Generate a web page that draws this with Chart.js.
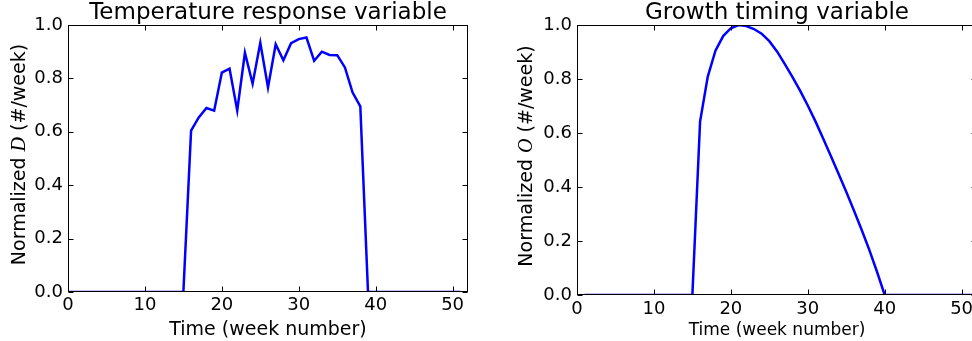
<!DOCTYPE html>
<html>
<head>
<meta charset="utf-8">
<script src="https://cdn.jsdelivr.net/npm/chart.js@4"></script>
<style>
  html, body { margin: 0; padding: 0; background: #fff; }
  body { width: 972px; height: 341px; overflow: hidden; position: relative; }
  canvas { position: absolute; top: 0; }
  #tempChart { left: 0; }
  #growthChart { left: 490px; }
</style>
</head>
<body>
<canvas id="tempChart" width="490" height="341"></canvas>
<canvas id="growthChart" width="490" height="341"></canvas>
<script>
// semanas do eixo x
const weeksTemp = [0, 1, 2, 3, 4, 5, 6, 7, 8, 9, 10, 11, 12, 13, 14, 15, 16, 17, 18, 19, 20, 21, 22, 23, 24, 25,
    26, 27, 28, 29, 30, 31, 32, 33, 34, 35, 36, 37, 38, 39, 40, 41, 42, 43, 44, 45, 46, 47, 48, 49, 50, 51];
const weeksGrowth = [1, 2, 3, 4, 5, 6, 7, 8, 9, 10, 11, 12, 13, 14, 15, 16, 17, 18, 19, 20, 21, 22, 23, 24, 25, 26,
    27, 28, 29, 30, 31, 32, 33, 34, 35, 36, 37, 38, 39, 40, 41, 42, 43, 44, 45, 46, 47, 48, 49, 50, 51, 52];

// valores
const temperatureResponse = [0, 0, 0, 0, 0, 0, 0, 0, 0, 0, 0, 0, 0, 0, 0, 0,
    0.604, 0.654, 0.689, 0.679, 0.822, 0.837, 0.680, 0.896, 0.780, 0.933, 0.766, 0.928, 0.868, 0.932,
    0.947, 0.953, 0.866, 0.900, 0.888, 0.887, 0.841, 0.747, 0.695,
    0, 0, 0, 0, 0, 0, 0, 0, 0, 0, 0, 0, 0];
const growthTiming = [0, 0, 0, 0, 0, 0, 0, 0, 0, 0, 0, 0, 0, 0, 0,
    0.642, 0.809, 0.905, 0.959, 0.988, 1.000, 0.996, 0.985, 0.968, 0.940, 0.902, 0.856, 0.808, 0.757,
    0.702, 0.643, 0.580, 0.515, 0.449, 0.382, 0.313, 0.242, 0.167, 0.086,
    0, 0, 0, 0, 0, 0, 0, 0, 0, 0, 0, 0, 0];

const xTicks = [0, 10, 20, 30, 40, 50];
const yTicks = [0, 0.2, 0.4, 0.6, 0.8, 1.0];

const FONT = '"DejaVu Sans", sans-serif';

// moldura com ticks para dentro (estilo matplotlib) + titulo do eixo y
const axesFrame = {
    id: 'axesFrame',
    afterDatasetsDraw(chart, args, opts) {
        const { ctx, chartArea: a, scales: { x, y } } = chart;
        ctx.save();
        ctx.strokeStyle = '#000';
        ctx.lineWidth = 1;
        const L = Math.round(a.left) + 0.5, R = Math.round(a.right) - 0.5;
        const T = Math.round(a.top) + 0.5, B = Math.round(a.bottom) - 0.5;
        ctx.strokeRect(L, T, R - L, B - T);
        ctx.beginPath();
        x.ticks.forEach(t => {
            const px = Math.round(x.getPixelForValue(t.value)) + 0.5;
            ctx.moveTo(px, B); ctx.lineTo(px, B - 5);
            ctx.moveTo(px, T); ctx.lineTo(px, T + 5);
        });
        y.ticks.forEach(t => {
            const py = Math.round(y.getPixelForValue(t.value)) + 0.5;
            ctx.moveTo(L, py); ctx.lineTo(L + 5, py);
            ctx.moveTo(R, py); ctx.lineTo(R - 5, py);
        });
        ctx.stroke();

        // titulo do eixo y com a letra em italico
        const parts = opts.label;
        let total = 0;
        parts.forEach(p => { ctx.font = p.font; p.w = ctx.measureText(p.text).width; total += p.w; });
        ctx.translate(opts.titleX, (a.top + a.bottom) / 2 + opts.titleShift);
        ctx.rotate(-Math.PI / 2);
        ctx.fillStyle = '#000';
        ctx.textBaseline = 'middle';
        ctx.textAlign = 'left';
        let cx = -total / 2;
        parts.forEach(p => { ctx.font = p.font; ctx.fillText(p.text, cx, 0); cx += p.w; });
        ctx.restore();
    }
};

function makeChart(id, cfg) {
    const ctx = document.getElementById(id).getContext('2d');
    return new Chart(ctx, {
        type: 'line',
        data: {
            datasets: [{
                data: cfg.xs.map((w, i) => ({ x: w, y: cfg.ys[i] })),
                borderColor: '#0000ff',
                borderWidth: 2.5,
                pointRadius: 0,
                tension: 0,
                fill: false
            }]
        },
        options: {
            responsive: false,
            animation: false,
            devicePixelRatio: 1,
            layout: { padding: { left: 0, right: cfg.padRight, top: 0, bottom: 0 } },
            scales: {
                x: {
                    type: 'linear',
                    min: 0,
                    max: 52,
                    grid: { display: false, drawTicks: false },
                    border: { display: false },
                    afterBuildTicks: s => { s.ticks = xTicks.map(v => ({ value: v })); },
                    afterFit: s => { s.height = cfg.xHeight; },
                    ticks: { padding: cfg.xPad, color: '#000', font: { family: FONT, size: 18 }, maxRotation: 0 },
                    title: {
                        display: true,
                        text: 'Time (week number)',
                        color: '#000',
                        font: { family: FONT, size: cfg.xTitleSize },
                        padding: { top: 0, bottom: 0 }
                    }
                },
                y: {
                    min: 0,
                    max: 1,
                    grid: { display: false, drawTicks: false },
                    border: { display: false },
                    afterBuildTicks: s => { s.ticks = yTicks.map(v => ({ value: v })); },
                    afterFit: s => { s.width = cfg.yWidth; },
                    ticks: {
                        padding: 5,
                        color: '#000',
                        font: { family: FONT, size: 18 },
                        callback: v => v.toFixed(1)
                    }
                }
            },
            plugins: {
                legend: { display: false },
                tooltip: { enabled: false },
                title: {
                    display: true,
                    fullSize: false,
                    text: cfg.title,
                    color: '#000',
                    font: { family: FONT, size: 23, weight: 'normal', lineHeight: 1 },
                    padding: { top: 2, bottom: 0 }
                },
                axesFrame: {
                    titleX: cfg.titleX,
                    titleShift: -4,
                    label: [
                        { text: 'Normalized ', font: '19px ' + FONT },
                        { text: cfg.letter, font: 'italic 20px "Liberation Serif", serif' },
                        { text: ' (#/week)', font: '19px ' + FONT }
                    ]
                }
            }
        },
        plugins: [axesFrame]
    });
}

makeChart('tempChart', {
    xs: weeksTemp, ys: temperatureResponse,
    title: 'Temperature response variable', letter: 'D',
    yWidth: 68, xHeight: 49, padRight: 22, xPad: 3, xTitleSize: 19, titleX: 20
});

makeChart('growthChart', {
    xs: weeksGrowth, ys: growthTiming,
    title: 'Growth timing variable', letter: 'O',
    yWidth: 87, xHeight: 46, padRight: 3, xPad: 4, xTitleSize: 17, titleX: 37
});
</script>
</body>
</html>
